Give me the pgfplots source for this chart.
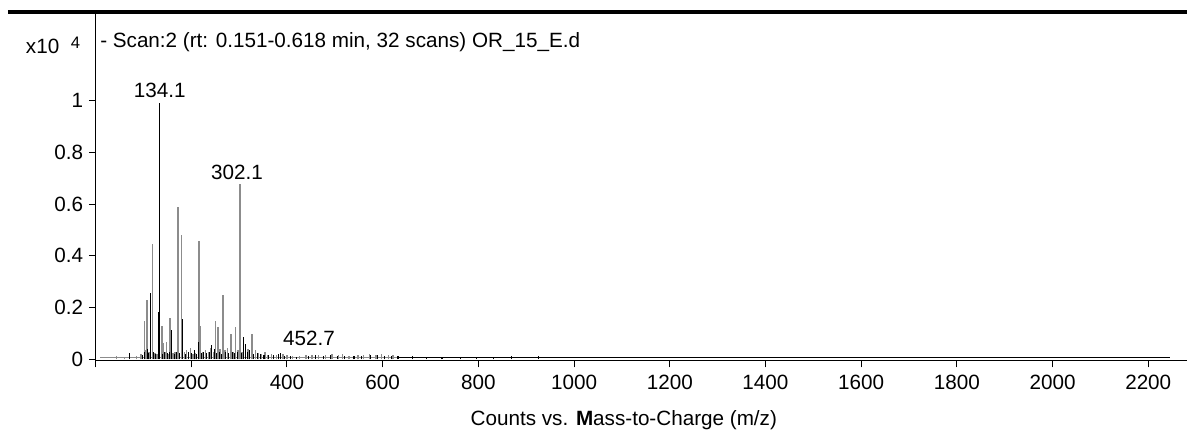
\documentclass[border=0pt]{standalone}
\usepackage{pgfplots}
\pgfplotsset{compat=1.18}
\usepackage{pgfplotstable}
\usepackage{fontspec}
\setmainfont{Liberation Sans}
\definecolor{stickgray}{HTML}{8C8C8C}
\newcommand{\cfont}{\fontsize{12.4}{14}\selectfont}

\pgfplotstableread{
x h
44 0.012
60 0.008
85 0.012
95 0.02
101.9 0.149
105 0.035
107.4 0.229
112 0.03
118.4 0.445
124 0.025
128 0.02
139.2 0.129
141.8 0.062
146 0.03
148.5 0.068
152 0.02
155.5 0.161
162 0.025
166 0.03
172.0 0.588
179.0 0.482
186 0.03
190 0.035
198.7 0.045
204 0.02
208 0.025
216.3 0.457
219.5 0.129
224 0.03
230 0.035
236 0.03
240 0.045
246 0.03
250.2 0.149
255.8 0.124
260 0.04
266.3 0.249
270 0.035
276 0.045
283 0.098
288 0.03
292.7 0.124
298 0.035
302.1 0.678
306 0.03
318 0.04
322 0.03
326.9 0.098
334 0.035
340 0.025
346 0.02
354 0.03
360 0.018
368 0.02
378 0.015
392 0.02
400 0.015
412 0.012
426 0.012
440 0.015
452.7 0.018
466 0.015
480 0.018
494 0.02
508 0.015
516 0.02
530 0.012
548 0.015
560 0.015
572 0.02
586 0.018
598 0.02
612 0.015
622 0.018
}\graydata

\pgfplotstableread{
x h
70 0.025
98 0.015
103 0.03
108 0.04
110 0.025
115 0.255
121 0.03
126 0.02
131.5 0.184
134.1 0.992
140 0.02
144 0.03
150 0.025
154 0.03
157.8 0.113
164 0.02
169 0.03
176 0.025
182 0.155
188 0.02
194 0.03
200 0.025
206 0.035
211 0.02
215.2 0.068
222 0.025
226 0.03
232 0.025
238 0.03
243 0.055
248 0.04
252 0.025
258 0.03
264 0.02
272 0.03
278 0.025
286 0.03
290 0.025
296 0.03
304 0.025
310 0.087
314 0.06
318 0.03
322 0.035
330 0.02
338 0.025
344 0.02
352 0.018
362 0.015
372 0.015
382 0.02
387 0.025
395 0.012
407 0.012
420 0.01
445 0.012
460 0.015
476 0.012
490 0.015
505 0.014
520 0.012
540 0.012
556 0.014
575 0.015
590 0.015
604 0.012
618 0.014
632 0.012
662 0.012
692 0.01
724 0.01
763 0.01
797 0.01
831 0.01
870 0.014
925 0.012
}\blackdata

\begin{document}
\begin{tikzpicture}
\begin{axis}[
  name=ax,
  scale only axis,
  width=654.8pt, height=208pt,
  xmin=0, xmax=2281,
  ymin=-0.0054, ymax=1.335,
  axis x line*=bottom,
  axis y line*=left,
  axis line style={line width=0.7pt,-},
  tick align=outside,
  major tick length=4pt,
  tick style={line width=0.6pt, black},
  xtick={0,200,400,600,800,1000,1200,1400,1600,1800,2000,2200},
  xticklabels={,200,400,600,800,1000,1200,1400,1600,1800,2000,2200},
  ytick={0,0.2,0.4,0.6,0.8,1},
  yticklabels={0,0.2,0.4,0.6,0.8,1},
  ticklabel style={font=\cfont},
  xticklabel style={yshift=-1pt},
  xlabel={Counts vs. \textbf{M}ass-to-Charge (m/z)},
  xlabel style={font=\cfont, at={(axis description cs:0.484,0)}, anchor=center, yshift=-35.6pt},
  clip=true,
]
\addplot[stickgray, line width=0.6pt] coordinates {(10,0.008) (630,0.008)};
\addplot[black, line width=0.6pt] coordinates {(630,0.008) (2245,0.008)};
\addplot[ycomb, draw=stickgray, line width=0.9pt, no markers] table[x=x,y=h] {\graydata};
\addplot[ycomb, draw=black, line width=0.65pt, no markers] table[x=x,y=h] {\blackdata};
\node[font=\cfont] at (axis cs:134.1,1.041) {134.1};
\node[font=\cfont] at (axis cs:295.5,0.724) {302.1};
\node[font=\cfont] at (axis cs:446,0.079) {452.7};
\node[font=\cfont, anchor=west, inner sep=0pt] at ([xshift=2.6pt,yshift=-16.8pt]rel axis cs:0,1) {- Scan:2 (rt: 0.151-0.618 min, 32 scans) OR\_15\_E.d};
\end{axis}
\draw[line width=2.4pt] ([xshift=-52.6pt,yshift=1.2pt]ax.north west) -- ([yshift=1.2pt]ax.north east);
\node[font=\cfont, anchor=west, inner sep=0pt] at ([xshift=-42pt,yshift=-19.4pt]ax.north west) {x10};
\node[font=\fontsize{10}{12}\selectfont, anchor=center, inner sep=0pt] at ([xshift=-12pt,yshift=-17.2pt]ax.north west) {4};
\pgfresetboundingbox
\path ([xshift=-57.36pt,yshift=8.4pt]ax.north west) rectangle ([yshift=-42.78pt]ax.south east);
\end{tikzpicture}
\end{document}
